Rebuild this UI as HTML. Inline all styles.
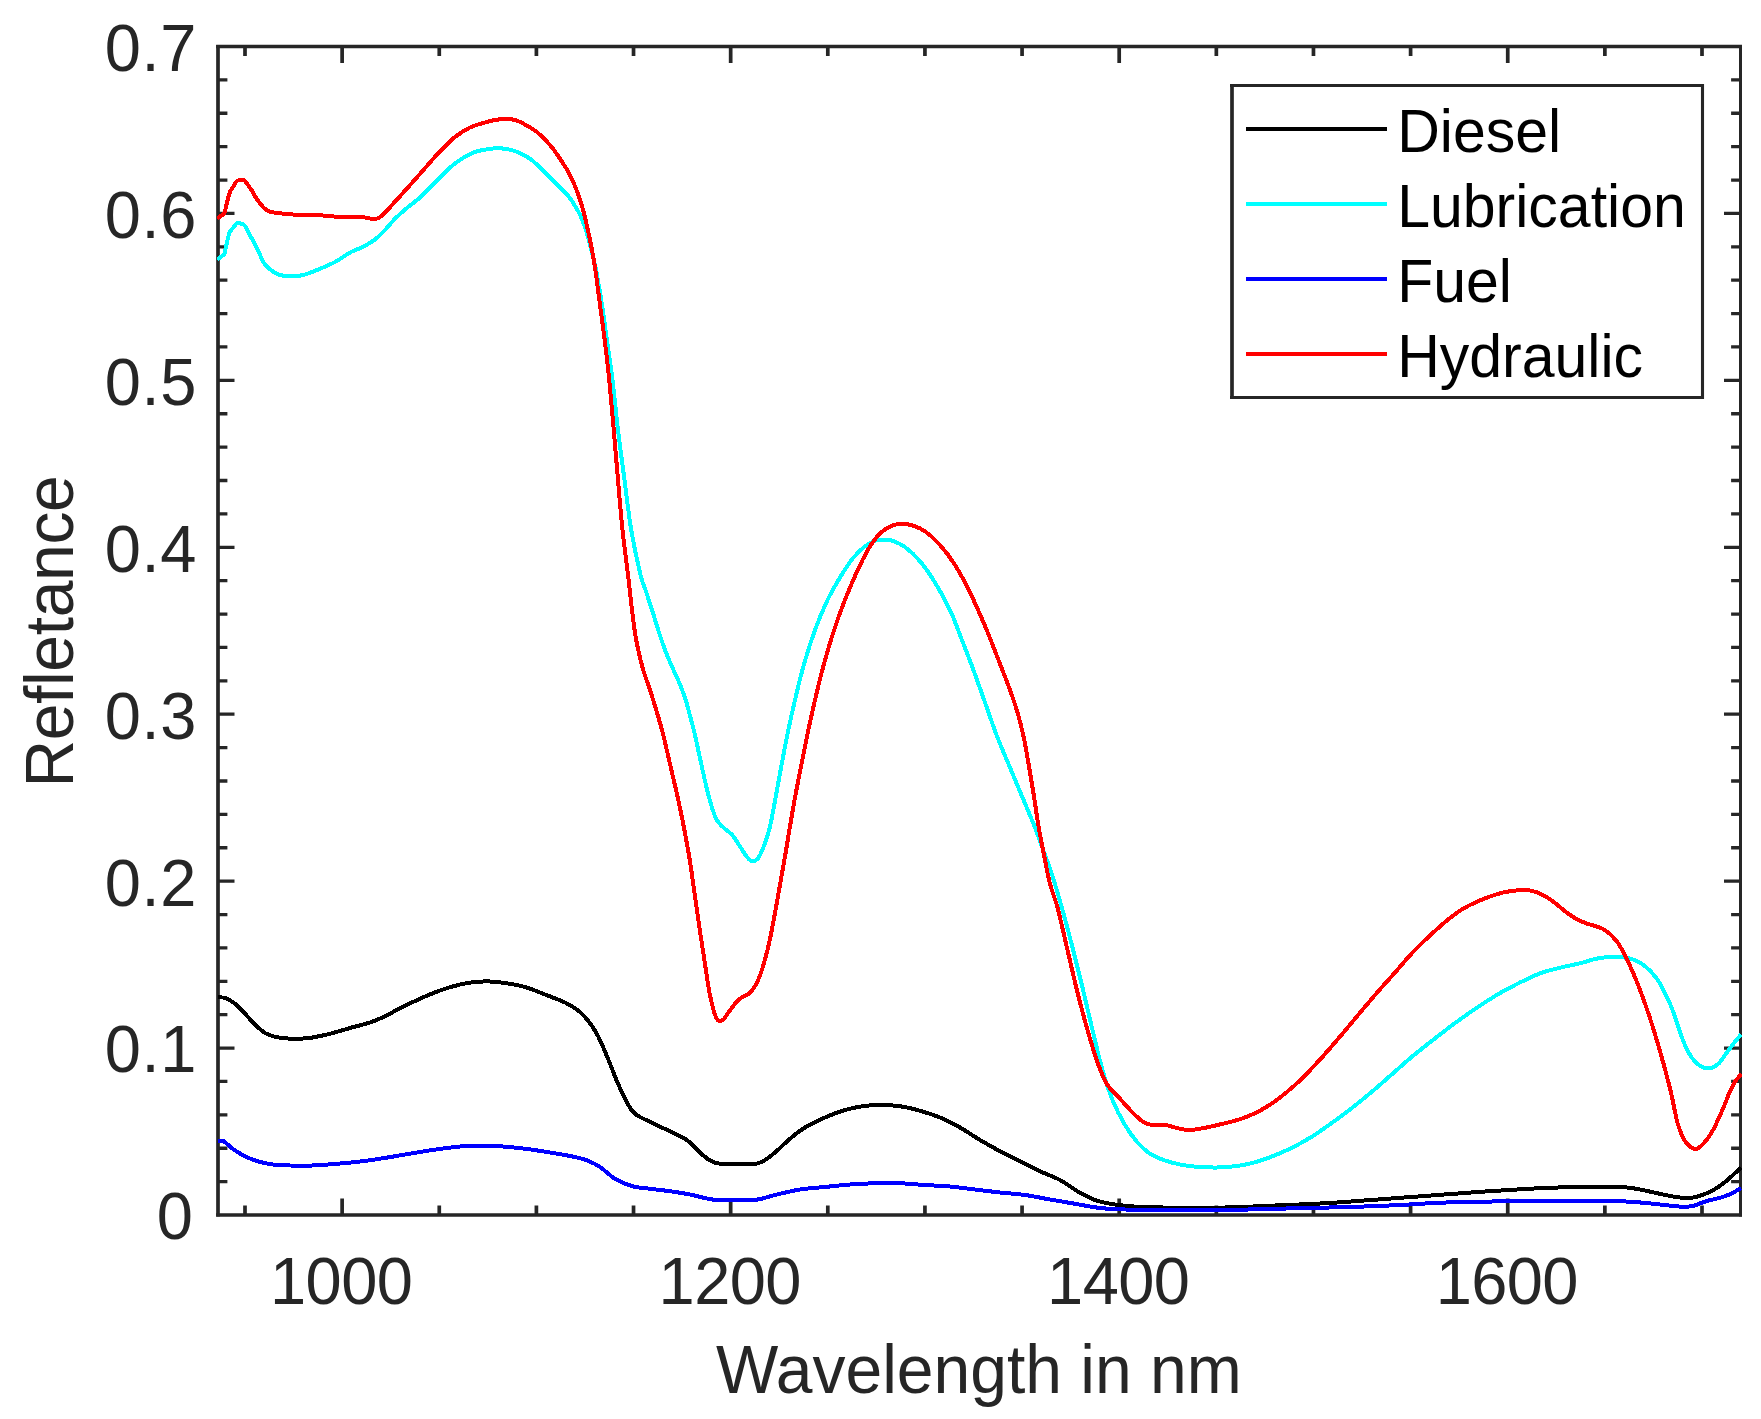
<!DOCTYPE html>
<html><head><meta charset="utf-8"><title>Refletance</title>
<style>
html,body{margin:0;padding:0;background:#fff;}
body{width:1761px;height:1419px;overflow:hidden;}
svg{display:block;}
text{font-family:"Liberation Sans",Arial,Helvetica,sans-serif;}
.t{font-size:65px;fill:#262626;letter-spacing:0.6px;}
.l{font-size:66px;fill:#262626;}
.lg{font-size:59px;fill:#000;}
.c{fill:none;stroke-width:4.0;stroke-linejoin:round;stroke-linecap:butt;shape-rendering:crispEdges;}
</style></head><body>
<svg width="1761" height="1419" viewBox="0 0 1761 1419">
<rect width="1761" height="1419" fill="#fff"/>
<defs><clipPath id="cp"><rect x="217.0" y="45.0" width="1525.0" height="1171.5"/></clipPath></defs>
<path d="M245.00,1215.0v-9.4M245.00,46.5v9.4M342.13,1215.0v-16.5M342.13,46.5v16.5M439.27,1215.0v-9.4M439.27,46.5v9.4M536.40,1215.0v-9.4M536.40,46.5v9.4M633.53,1215.0v-9.4M633.53,46.5v9.4M730.67,1215.0v-16.5M730.67,46.5v16.5M827.80,1215.0v-9.4M827.80,46.5v9.4M924.93,1215.0v-9.4M924.93,46.5v9.4M1022.07,1215.0v-9.4M1022.07,46.5v9.4M1119.20,1215.0v-16.5M1119.20,46.5v16.5M1216.34,1215.0v-9.4M1216.34,46.5v9.4M1313.47,1215.0v-9.4M1313.47,46.5v9.4M1410.60,1215.0v-9.4M1410.60,46.5v9.4M1507.74,1215.0v-16.5M1507.74,46.5v16.5M1604.87,1215.0v-9.4M1604.87,46.5v9.4M1702.00,1215.0v-9.4M1702.00,46.5v9.4" stroke="#262626" stroke-width="3.7" fill="none"/>
<path d="M218.0,1181.61h9.4M1740.5,1181.61h-9.4M218.0,1148.23h9.4M1740.5,1148.23h-9.4M218.0,1114.84h9.4M1740.5,1114.84h-9.4M218.0,1081.46h9.4M1740.5,1081.46h-9.4M218.0,1048.07h16.5M1740.5,1048.07h-16.5M218.0,1014.69h9.4M1740.5,1014.69h-9.4M218.0,981.30h9.4M1740.5,981.30h-9.4M218.0,947.91h9.4M1740.5,947.91h-9.4M218.0,914.53h9.4M1740.5,914.53h-9.4M218.0,881.14h16.5M1740.5,881.14h-16.5M218.0,847.76h9.4M1740.5,847.76h-9.4M218.0,814.37h9.4M1740.5,814.37h-9.4M218.0,780.99h9.4M1740.5,780.99h-9.4M218.0,747.60h9.4M1740.5,747.60h-9.4M218.0,714.21h16.5M1740.5,714.21h-16.5M218.0,680.83h9.4M1740.5,680.83h-9.4M218.0,647.44h9.4M1740.5,647.44h-9.4M218.0,614.06h9.4M1740.5,614.06h-9.4M218.0,580.67h9.4M1740.5,580.67h-9.4M218.0,547.29h16.5M1740.5,547.29h-16.5M218.0,513.90h9.4M1740.5,513.90h-9.4M218.0,480.51h9.4M1740.5,480.51h-9.4M218.0,447.13h9.4M1740.5,447.13h-9.4M218.0,413.74h9.4M1740.5,413.74h-9.4M218.0,380.36h16.5M1740.5,380.36h-16.5M218.0,346.97h9.4M1740.5,346.97h-9.4M218.0,313.59h9.4M1740.5,313.59h-9.4M218.0,280.20h9.4M1740.5,280.20h-9.4M218.0,246.81h9.4M1740.5,246.81h-9.4M218.0,213.43h16.5M1740.5,213.43h-16.5M218.0,180.04h9.4M1740.5,180.04h-9.4M218.0,146.66h9.4M1740.5,146.66h-9.4M218.0,113.27h9.4M1740.5,113.27h-9.4M218.0,79.89h9.4M1740.5,79.89h-9.4" stroke="#262626" stroke-width="3.3" fill="none"/>
<path d="M216.15,46.5H1742.0M216.15,1215.0H1742.0" stroke="#262626" stroke-width="3.3" fill="none"/>
<path d="M218.0,45.0V1216.6" stroke="#262626" stroke-width="3.7" fill="none"/>
<path d="M1740.5,45.0V1216.6" stroke="#262626" stroke-width="3.0" fill="none"/>
<g clip-path="url(#cp)">
<path class="c" stroke="#000000" d="M218.00,997.50C219.17,997.58 222.17,996.96 225.00,998.00C227.83,999.04 231.67,1001.12 235.00,1003.75C238.33,1006.38 241.67,1010.29 245.00,1013.75C248.33,1017.21 251.67,1021.29 255.00,1024.50C258.33,1027.71 261.67,1030.96 265.00,1033.00C268.33,1035.04 271.25,1035.83 275.00,1036.75C278.75,1037.67 283.33,1038.17 287.50,1038.50C291.67,1038.83 295.83,1038.92 300.00,1038.75C304.17,1038.58 307.50,1038.33 312.50,1037.50C317.50,1036.67 323.75,1035.33 330.00,1033.75C336.25,1032.17 343.33,1029.88 350.00,1028.00C356.67,1026.12 364.17,1024.46 370.00,1022.50C375.83,1020.54 380.00,1018.62 385.00,1016.25C390.00,1013.88 394.17,1011.17 400.00,1008.25C405.83,1005.33 413.33,1001.71 420.00,998.75C426.67,995.79 433.33,992.88 440.00,990.50C446.67,988.12 454.17,985.92 460.00,984.50C465.83,983.08 470.00,982.50 475.00,982.00C480.00,981.50 485.00,981.33 490.00,981.50C495.00,981.67 499.17,982.08 505.00,983.00C510.83,983.92 518.33,985.08 525.00,987.00C531.67,988.92 538.33,991.92 545.00,994.50C551.67,997.08 559.58,999.92 565.00,1002.50C570.42,1005.08 573.75,1007.08 577.50,1010.00C581.25,1012.92 584.17,1015.83 587.50,1020.00C590.83,1024.17 594.17,1028.75 597.50,1035.00C600.83,1041.25 604.17,1049.58 607.50,1057.50C610.83,1065.42 614.17,1074.79 617.50,1082.50C620.83,1090.21 624.58,1098.54 627.50,1103.75C630.42,1108.96 632.50,1111.33 635.00,1113.75C637.50,1116.17 638.75,1116.29 642.50,1118.25C646.25,1120.21 652.50,1123.12 657.50,1125.50C662.50,1127.88 667.50,1130.00 672.50,1132.50C677.50,1135.00 682.92,1137.17 687.50,1140.50C692.08,1143.83 696.25,1149.17 700.00,1152.50C703.75,1155.83 706.67,1158.62 710.00,1160.50C713.33,1162.38 715.83,1163.17 720.00,1163.75C724.17,1164.33 729.17,1163.96 735.00,1164.00C740.83,1164.04 750.00,1164.67 755.00,1164.00C760.00,1163.33 761.67,1161.92 765.00,1160.00C768.33,1158.08 770.83,1156.04 775.00,1152.50C779.17,1148.96 785.00,1142.92 790.00,1138.75C795.00,1134.58 799.17,1131.04 805.00,1127.50C810.83,1123.96 818.33,1120.42 825.00,1117.50C831.67,1114.58 838.75,1111.88 845.00,1110.00C851.25,1108.12 856.67,1107.08 862.50,1106.25C868.33,1105.42 873.75,1105.00 880.00,1105.00C886.25,1105.00 893.33,1105.29 900.00,1106.25C906.67,1107.21 913.33,1108.88 920.00,1110.75C926.67,1112.62 933.33,1114.71 940.00,1117.50C946.67,1120.29 953.33,1123.75 960.00,1127.50C966.67,1131.25 973.33,1136.04 980.00,1140.00C986.67,1143.96 993.33,1147.71 1000.00,1151.25C1006.67,1154.79 1013.33,1157.92 1020.00,1161.25C1026.67,1164.58 1033.33,1168.12 1040.00,1171.25C1046.67,1174.38 1053.75,1176.67 1060.00,1180.00C1066.25,1183.33 1071.67,1187.92 1077.50,1191.25C1083.33,1194.58 1089.58,1197.92 1095.00,1200.00C1100.42,1202.08 1104.17,1202.71 1110.00,1203.75C1115.83,1204.79 1121.25,1205.62 1130.00,1206.25C1138.75,1206.88 1146.67,1207.29 1162.50,1207.50C1178.33,1207.71 1206.25,1207.83 1225.00,1207.50C1243.75,1207.17 1258.33,1206.21 1275.00,1205.50C1291.67,1204.79 1309.00,1204.17 1325.00,1203.25C1341.00,1202.33 1355.00,1201.17 1371.00,1200.00C1387.00,1198.83 1404.33,1197.50 1421.00,1196.25C1437.67,1195.00 1454.33,1193.67 1471.00,1192.50C1487.67,1191.33 1506.42,1190.08 1521.00,1189.25C1535.58,1188.42 1542.67,1187.88 1558.50,1187.50C1574.33,1187.12 1603.08,1186.79 1616.00,1187.00C1628.92,1187.21 1629.33,1187.75 1636.00,1188.75C1642.67,1189.75 1649.33,1191.62 1656.00,1193.00C1662.67,1194.38 1670.58,1196.17 1676.00,1197.00C1681.42,1197.83 1684.75,1198.12 1688.50,1198.00C1692.25,1197.88 1694.33,1197.58 1698.50,1196.25C1702.67,1194.92 1708.92,1192.50 1713.50,1190.00C1718.08,1187.50 1721.42,1185.00 1726.00,1181.25C1730.58,1177.50 1738.50,1169.79 1741.00,1167.50"/>
<path class="c" stroke="#00ffff" d="M217.00,259.60C218.23,258.72 224.40,254.30 224.40,254.30C224.40,254.30 226.05,246.40 226.90,242.80C227.75,239.20 228.43,235.23 229.50,232.70C230.57,230.17 232.03,229.22 233.30,227.60C234.57,225.98 235.77,223.63 237.10,223.00C238.43,222.37 240.03,223.38 241.30,223.80C242.57,224.22 243.50,224.02 244.70,225.50C245.90,226.98 247.23,230.38 248.50,232.70C249.77,235.02 251.03,237.05 252.30,239.45C253.57,241.85 254.83,244.56 256.10,247.10C257.37,249.64 258.57,252.03 259.90,254.70C261.23,257.37 262.55,260.78 264.10,263.10C265.65,265.42 267.50,267.05 269.20,268.60C270.90,270.15 272.47,271.33 274.30,272.40C276.13,273.47 277.95,274.36 280.20,275.00C282.45,275.64 285.17,276.07 287.80,276.25C290.43,276.43 293.13,276.39 296.00,276.10C298.87,275.81 301.00,275.73 305.00,274.50C309.00,273.27 315.00,270.83 320.00,268.75C325.00,266.67 330.00,264.71 335.00,262.00C340.00,259.29 345.42,255.00 350.00,252.50C354.58,250.00 358.33,249.17 362.50,247.00C366.67,244.83 371.25,242.33 375.00,239.50C378.75,236.67 381.67,233.46 385.00,230.00C388.33,226.54 391.25,222.50 395.00,218.75C398.75,215.00 403.33,211.04 407.50,207.50C411.67,203.96 415.42,201.67 420.00,197.50C424.58,193.33 430.00,187.50 435.00,182.50C440.00,177.50 445.42,171.54 450.00,167.50C454.58,163.46 458.33,160.83 462.50,158.25C466.67,155.67 470.83,153.50 475.00,152.00C479.17,150.50 483.75,149.88 487.50,149.25C491.25,148.62 494.17,148.25 497.50,148.25C500.83,148.25 504.17,148.62 507.50,149.25C510.83,149.88 513.75,150.42 517.50,152.00C521.25,153.58 525.83,155.75 530.00,158.75C534.17,161.75 538.33,166.04 542.50,170.00C546.67,173.96 550.83,178.33 555.00,182.50C559.17,186.67 563.75,190.42 567.50,195.00C571.25,199.58 574.79,205.21 577.50,210.00C580.21,214.79 581.88,218.75 583.75,223.75C585.62,228.75 586.88,233.12 588.75,240.00C590.62,246.88 592.92,255.00 595.00,265.00C597.08,275.00 599.38,288.33 601.25,300.00C603.12,311.67 604.38,321.67 606.25,335.00C608.12,348.33 610.54,364.17 612.50,380.00C614.46,395.83 616.00,413.33 618.00,430.00C620.00,446.67 622.29,463.33 624.50,480.00C626.71,496.67 628.58,514.17 631.25,530.00C633.92,545.83 638.04,564.75 640.50,575.00C642.96,585.25 643.82,584.83 646.00,591.50C648.18,598.17 651.35,607.92 653.60,615.00C655.85,622.08 657.60,628.17 659.50,634.00C661.40,639.83 663.40,645.65 665.00,650.00C666.60,654.35 667.47,656.30 669.10,660.10C670.73,663.90 672.92,668.57 674.80,672.80C676.68,677.03 678.53,680.80 680.40,685.50C682.27,690.20 684.12,694.88 686.00,701.00C687.88,707.12 690.23,716.70 691.70,722.20C693.17,727.70 693.21,727.03 694.80,734.00C696.39,740.97 698.92,753.58 701.25,764.00C703.58,774.42 706.25,787.33 708.75,796.50C711.25,805.67 713.75,813.79 716.25,819.00C718.75,824.21 721.04,825.04 723.75,827.75C726.46,830.46 729.79,832.12 732.50,835.25C735.21,838.38 737.71,843.04 740.00,846.50C742.29,849.96 744.38,853.62 746.25,856.00C748.12,858.38 749.38,860.25 751.25,860.75C753.12,861.25 755.42,861.38 757.50,859.00C759.58,856.62 761.67,851.92 763.75,846.50C765.83,841.08 767.92,835.25 770.00,826.50C772.08,817.75 774.38,804.00 776.25,794.00C778.12,784.00 779.38,776.50 781.25,766.50C783.12,756.50 785.21,745.08 787.50,734.00C789.79,722.92 792.29,711.50 795.00,700.00C797.71,688.50 800.42,676.67 803.75,665.00C807.08,653.33 811.04,640.83 815.00,630.00C818.96,619.17 823.33,608.75 827.50,600.00C831.67,591.25 835.83,584.38 840.00,577.50C844.17,570.62 848.33,563.96 852.50,558.75C856.67,553.54 861.25,549.25 865.00,546.25C868.75,543.25 871.88,541.88 875.00,540.75C878.12,539.62 880.83,539.50 883.75,539.50C886.67,539.50 888.96,539.50 892.50,540.75C896.04,542.00 900.42,543.58 905.00,547.00C909.58,550.42 915.00,555.33 920.00,561.25C925.00,567.17 930.00,574.38 935.00,582.50C940.00,590.62 945.83,601.25 950.00,610.00C954.17,618.75 956.25,625.42 960.00,635.00C963.75,644.58 968.33,656.25 972.50,667.50C976.67,678.75 980.83,690.83 985.00,702.50C989.17,714.17 993.33,726.67 997.50,737.50C1001.67,748.33 1005.83,757.50 1010.00,767.50C1014.17,777.50 1018.33,787.50 1022.50,797.50C1026.67,807.50 1031.25,817.92 1035.00,827.50C1038.75,837.08 1042.29,847.58 1045.00,855.00C1047.71,862.42 1048.33,862.83 1051.25,872.00C1054.17,881.17 1058.96,897.42 1062.50,910.00C1066.04,922.58 1069.17,934.58 1072.50,947.50C1075.83,960.42 1079.17,973.75 1082.50,987.50C1085.83,1001.25 1089.17,1016.25 1092.50,1030.00C1095.83,1043.75 1099.17,1058.33 1102.50,1070.00C1105.83,1081.67 1108.75,1090.83 1112.50,1100.00C1116.25,1109.17 1120.83,1117.92 1125.00,1125.00C1129.17,1132.08 1133.33,1137.71 1137.50,1142.50C1141.67,1147.29 1145.42,1150.75 1150.00,1153.75C1154.58,1156.75 1159.58,1158.62 1165.00,1160.50C1170.42,1162.38 1176.67,1163.92 1182.50,1165.00C1188.33,1166.08 1194.17,1166.58 1200.00,1167.00C1205.83,1167.42 1211.67,1167.62 1217.50,1167.50C1223.33,1167.38 1229.17,1167.00 1235.00,1166.25C1240.83,1165.50 1246.25,1164.67 1252.50,1163.00C1258.75,1161.33 1265.83,1158.83 1272.50,1156.25C1279.17,1153.67 1285.83,1150.83 1292.50,1147.50C1299.17,1144.17 1305.83,1140.42 1312.50,1136.25C1319.17,1132.08 1325.83,1127.29 1332.50,1122.50C1339.17,1117.71 1345.83,1112.71 1352.50,1107.50C1359.17,1102.29 1365.83,1096.88 1372.50,1091.25C1379.17,1085.62 1385.83,1079.58 1392.50,1073.75C1399.17,1067.92 1404.42,1062.92 1412.50,1056.25C1420.58,1049.58 1432.92,1040.00 1441.00,1033.75C1449.08,1027.50 1454.33,1023.54 1461.00,1018.75C1467.67,1013.96 1474.33,1009.38 1481.00,1005.00C1487.67,1000.62 1494.33,996.33 1501.00,992.50C1507.67,988.67 1514.33,985.25 1521.00,982.00C1527.67,978.75 1534.33,975.42 1541.00,973.00C1547.67,970.58 1554.33,969.17 1561.00,967.50C1567.67,965.83 1575.17,964.46 1581.00,963.00C1586.83,961.54 1591.42,959.75 1596.00,958.75C1600.58,957.75 1604.75,957.29 1608.50,957.00C1612.25,956.71 1614.75,956.71 1618.50,957.00C1622.25,957.29 1626.83,957.42 1631.00,958.75C1635.17,960.08 1639.33,961.88 1643.50,965.00C1647.67,968.12 1652.25,972.50 1656.00,977.50C1659.75,982.50 1663.08,989.17 1666.00,995.00C1668.92,1000.83 1671.00,1005.83 1673.50,1012.50C1676.00,1019.17 1678.50,1028.33 1681.00,1035.00C1683.50,1041.67 1686.00,1047.92 1688.50,1052.50C1691.00,1057.08 1693.50,1060.00 1696.00,1062.50C1698.50,1065.00 1701.00,1066.58 1703.50,1067.50C1706.00,1068.42 1708.50,1068.62 1711.00,1068.00C1713.50,1067.38 1716.00,1066.12 1718.50,1063.75C1721.00,1061.38 1723.50,1057.08 1726.00,1053.75C1728.50,1050.42 1731.00,1046.96 1733.50,1043.75C1736.00,1040.54 1739.75,1036.04 1741.00,1034.50"/>
<path class="c" stroke="#0000ff" d="M218.00,1140.75C218.96,1140.83 221.33,1139.92 223.75,1141.25C226.17,1142.58 228.96,1146.25 232.50,1148.75C236.04,1151.25 240.83,1154.17 245.00,1156.25C249.17,1158.33 252.92,1159.88 257.50,1161.25C262.08,1162.62 267.08,1163.79 272.50,1164.50C277.92,1165.21 283.33,1165.33 290.00,1165.50C296.67,1165.67 304.58,1165.79 312.50,1165.50C320.42,1165.21 329.17,1164.46 337.50,1163.75C345.83,1163.04 354.17,1162.29 362.50,1161.25C370.83,1160.21 379.17,1158.83 387.50,1157.50C395.83,1156.17 404.17,1154.62 412.50,1153.25C420.83,1151.88 429.17,1150.42 437.50,1149.25C445.83,1148.08 455.42,1146.88 462.50,1146.25C469.58,1145.62 473.75,1145.50 480.00,1145.50C486.25,1145.50 492.50,1145.71 500.00,1146.25C507.50,1146.79 516.67,1147.71 525.00,1148.75C533.33,1149.79 541.67,1151.12 550.00,1152.50C558.33,1153.88 568.75,1155.67 575.00,1157.00C581.25,1158.33 583.33,1158.83 587.50,1160.50C591.67,1162.17 595.42,1163.96 600.00,1167.00C604.58,1170.04 609.58,1175.54 615.00,1178.75C620.42,1181.96 626.67,1184.58 632.50,1186.25C638.33,1187.92 643.75,1187.92 650.00,1188.75C656.25,1189.58 663.33,1190.29 670.00,1191.25C676.67,1192.21 682.92,1193.12 690.00,1194.50C697.08,1195.88 705.00,1198.58 712.50,1199.50C720.00,1200.42 727.50,1200.00 735.00,1200.00C742.50,1200.00 750.83,1200.33 757.50,1199.50C764.17,1198.67 767.92,1196.67 775.00,1195.00C782.08,1193.33 791.67,1190.83 800.00,1189.50C808.33,1188.17 816.67,1187.83 825.00,1187.00C833.33,1186.17 841.67,1185.12 850.00,1184.50C858.33,1183.88 866.67,1183.46 875.00,1183.25C883.33,1183.04 891.67,1182.96 900.00,1183.25C908.33,1183.54 916.67,1184.46 925.00,1185.00C933.33,1185.54 941.67,1185.75 950.00,1186.50C958.33,1187.25 966.67,1188.50 975.00,1189.50C983.33,1190.50 991.67,1191.58 1000.00,1192.50C1008.33,1193.42 1016.67,1193.83 1025.00,1195.00C1033.33,1196.17 1041.67,1198.04 1050.00,1199.50C1058.33,1200.96 1066.67,1202.33 1075.00,1203.75C1083.33,1205.17 1091.67,1207.04 1100.00,1208.00C1108.33,1208.96 1114.58,1209.17 1125.00,1209.50C1135.42,1209.83 1145.83,1209.92 1162.50,1210.00C1179.17,1210.08 1206.25,1210.21 1225.00,1210.00C1243.75,1209.79 1254.17,1209.25 1275.00,1208.75C1295.83,1208.25 1329.17,1207.62 1350.00,1207.00C1370.83,1206.38 1384.00,1205.75 1400.00,1205.00C1416.00,1204.25 1427.92,1203.12 1446.00,1202.50C1464.08,1201.88 1487.67,1201.58 1508.50,1201.25C1529.33,1200.92 1552.25,1200.50 1571.00,1200.50C1589.75,1200.50 1608.50,1200.83 1621.00,1201.25C1633.50,1201.67 1637.67,1202.25 1646.00,1203.00C1654.33,1203.75 1664.75,1205.12 1671.00,1205.75C1677.25,1206.38 1679.75,1206.75 1683.50,1206.75C1687.25,1206.75 1689.75,1206.67 1693.50,1205.75C1697.25,1204.83 1701.42,1202.62 1706.00,1201.25C1710.58,1199.88 1716.83,1198.75 1721.00,1197.50C1725.17,1196.25 1727.67,1195.33 1731.00,1193.75C1734.33,1192.17 1739.33,1188.96 1741.00,1188.00"/>
<path class="c" stroke="#ff0000" d="M217.00,218.50C218.23,217.69 224.40,213.65 224.40,213.65C224.40,213.65 226.38,204.99 227.30,201.40C228.22,197.81 228.90,194.57 229.90,192.10C230.90,189.63 232.18,188.40 233.30,186.60C234.42,184.80 235.40,182.42 236.60,181.30C237.80,180.18 239.22,180.07 240.50,179.90C241.78,179.73 243.03,179.40 244.30,180.30C245.57,181.20 246.77,183.48 248.10,185.30C249.43,187.12 250.97,189.08 252.30,191.20C253.63,193.32 254.83,196.02 256.10,198.00C257.37,199.98 258.57,201.42 259.90,203.10C261.23,204.78 262.55,206.70 264.10,208.10C265.65,209.50 267.22,210.72 269.20,211.50C271.18,212.28 273.18,212.40 276.00,212.80C278.82,213.20 282.10,213.55 286.10,213.90C290.10,214.25 295.18,214.76 300.00,214.90C304.82,215.04 310.00,214.53 315.00,214.75C320.00,214.97 325.00,215.88 330.00,216.25C335.00,216.62 340.00,216.92 345.00,217.00C350.00,217.08 355.83,216.50 360.00,216.75C364.17,217.00 367.00,218.25 370.00,218.50C373.00,218.75 375.50,219.25 378.00,218.25C380.50,217.25 381.33,216.17 385.00,212.50C388.67,208.83 395.00,201.75 400.00,196.25C405.00,190.75 410.00,185.12 415.00,179.50C420.00,173.88 425.83,167.21 430.00,162.50C434.17,157.79 435.83,155.50 440.00,151.25C444.17,147.00 450.00,140.96 455.00,137.00C460.00,133.04 465.00,129.92 470.00,127.50C475.00,125.08 480.83,123.75 485.00,122.50C489.17,121.25 491.67,120.58 495.00,120.00C498.33,119.42 501.67,119.00 505.00,119.00C508.33,119.00 511.67,119.08 515.00,120.00C518.33,120.92 521.25,122.42 525.00,124.50C528.75,126.58 533.33,129.08 537.50,132.50C541.67,135.92 546.25,140.62 550.00,145.00C553.75,149.38 556.67,153.75 560.00,158.75C563.33,163.75 567.08,169.38 570.00,175.00C572.92,180.62 575.21,186.25 577.50,192.50C579.79,198.75 581.67,204.58 583.75,212.50C585.83,220.42 588.12,230.83 590.00,240.00C591.88,249.17 593.33,256.67 595.00,267.50C596.67,278.33 598.33,292.50 600.00,305.00C601.67,317.50 603.46,330.00 605.00,342.50C606.54,355.00 607.79,365.42 609.25,380.00C610.71,394.58 612.29,413.33 613.75,430.00C615.21,446.67 616.54,463.33 618.00,480.00C619.46,496.67 620.73,513.33 622.50,530.00C624.27,546.67 626.87,565.42 628.60,580.00C630.33,594.58 631.62,607.50 632.90,617.50C634.17,627.50 634.65,631.67 636.25,640.00C637.85,648.33 640.21,659.17 642.50,667.50C644.79,675.83 647.71,682.92 650.00,690.00C652.29,697.08 654.08,702.67 656.25,710.00C658.42,717.33 660.71,725.00 663.00,734.00C665.29,743.00 667.58,753.58 670.00,764.00C672.42,774.42 675.21,786.08 677.50,796.50C679.79,806.92 681.67,815.67 683.75,826.50C685.83,837.33 688.12,849.83 690.00,861.50C691.88,873.17 693.33,884.83 695.00,896.50C696.67,908.17 698.33,920.25 700.00,931.50C701.67,942.75 703.33,953.38 705.00,964.00C706.67,974.62 708.12,986.29 710.00,995.25C711.88,1004.21 714.17,1013.58 716.25,1017.75C718.33,1021.92 720.21,1021.50 722.50,1020.25C724.79,1019.00 727.29,1013.71 730.00,1010.25C732.71,1006.79 735.42,1002.42 738.75,999.50C742.08,996.58 746.88,995.75 750.00,992.75C753.12,989.75 755.21,986.29 757.50,981.50C759.79,976.71 761.67,971.08 763.75,964.00C765.83,956.92 767.71,949.83 770.00,939.00C772.29,928.17 775.00,912.75 777.50,899.00C780.00,885.25 782.50,871.08 785.00,856.50C787.50,841.92 790.00,825.67 792.50,811.50C795.00,797.33 797.50,784.42 800.00,771.50C802.50,758.58 805.00,745.92 807.50,734.00C810.00,722.08 812.08,712.33 815.00,700.00C817.92,687.67 821.25,673.33 825.00,660.00C828.75,646.67 833.33,632.08 837.50,620.00C841.67,607.92 845.83,597.50 850.00,587.50C854.17,577.50 858.75,567.50 862.50,560.00C866.25,552.50 869.17,547.29 872.50,542.50C875.83,537.71 879.17,534.08 882.50,531.25C885.83,528.42 889.25,526.75 892.50,525.50C895.75,524.25 898.67,523.75 902.00,523.75C905.33,523.75 908.67,524.25 912.50,525.50C916.33,526.75 920.42,528.00 925.00,531.25C929.58,534.50 935.00,539.38 940.00,545.00C945.00,550.62 950.00,557.08 955.00,565.00C960.00,572.92 965.00,582.33 970.00,592.50C975.00,602.67 980.42,615.17 985.00,626.00C989.58,636.83 993.33,646.83 997.50,657.50C1001.67,668.17 1006.67,680.83 1010.00,690.00C1013.33,699.17 1015.21,704.58 1017.50,712.50C1019.79,720.42 1021.88,728.75 1023.75,737.50C1025.62,746.25 1027.08,755.42 1028.75,765.00C1030.42,774.58 1032.08,784.58 1033.75,795.00C1035.42,805.42 1036.88,816.67 1038.75,827.50C1040.62,838.33 1043.12,850.58 1045.00,860.00C1046.88,869.42 1047.92,876.08 1050.00,884.00C1052.08,891.92 1054.58,896.50 1057.50,907.50C1060.42,918.50 1064.17,935.83 1067.50,950.00C1070.83,964.17 1074.17,979.17 1077.50,992.50C1080.83,1005.83 1084.17,1018.33 1087.50,1030.00C1090.83,1041.67 1094.17,1053.33 1097.50,1062.50C1100.83,1071.67 1103.75,1078.96 1107.50,1085.00C1111.25,1091.04 1115.83,1094.17 1120.00,1098.75C1124.17,1103.33 1128.75,1108.75 1132.50,1112.50C1136.25,1116.25 1139.58,1119.25 1142.50,1121.25C1145.42,1123.25 1146.25,1123.88 1150.00,1124.50C1153.75,1125.12 1160.83,1124.50 1165.00,1125.00C1169.17,1125.50 1171.25,1126.67 1175.00,1127.50C1178.75,1128.33 1183.33,1129.79 1187.50,1130.00C1191.67,1130.21 1195.00,1129.58 1200.00,1128.75C1205.00,1127.92 1210.83,1126.58 1217.50,1125.00C1224.17,1123.42 1233.33,1121.42 1240.00,1119.25C1246.67,1117.08 1251.67,1115.00 1257.50,1112.00C1263.33,1109.00 1268.75,1105.75 1275.00,1101.25C1281.25,1096.75 1288.33,1091.04 1295.00,1085.00C1301.67,1078.96 1308.33,1072.08 1315.00,1065.00C1321.67,1057.92 1328.33,1050.21 1335.00,1042.50C1341.67,1034.79 1348.33,1026.67 1355.00,1018.75C1361.67,1010.83 1368.33,1002.71 1375.00,995.00C1381.67,987.29 1388.33,980.00 1395.00,972.50C1401.67,965.00 1407.33,957.83 1415.00,950.00C1422.67,942.17 1433.33,932.17 1441.00,925.50C1448.67,918.83 1454.33,914.25 1461.00,910.00C1467.67,905.75 1474.33,902.83 1481.00,900.00C1487.67,897.17 1495.17,894.58 1501.00,893.00C1506.83,891.42 1511.83,891.00 1516.00,890.50C1520.17,890.00 1522.67,889.75 1526.00,890.00C1529.33,890.25 1532.67,890.88 1536.00,892.00C1539.33,893.12 1542.67,894.79 1546.00,896.75C1549.33,898.71 1552.67,901.21 1556.00,903.75C1559.33,906.29 1562.67,909.50 1566.00,912.00C1569.33,914.50 1572.67,916.88 1576.00,918.75C1579.33,920.62 1582.67,922.00 1586.00,923.25C1589.33,924.50 1593.08,925.25 1596.00,926.25C1598.92,927.25 1601.00,927.79 1603.50,929.25C1606.00,930.71 1608.50,932.58 1611.00,935.00C1613.50,937.42 1616.00,940.00 1618.50,943.75C1621.00,947.50 1623.50,952.50 1626.00,957.50C1628.50,962.50 1631.00,967.92 1633.50,973.75C1636.00,979.58 1638.50,985.83 1641.00,992.50C1643.50,999.17 1646.00,1006.25 1648.50,1013.75C1651.00,1021.25 1653.50,1029.17 1656.00,1037.50C1658.50,1045.83 1661.00,1054.58 1663.50,1063.75C1666.00,1072.92 1668.68,1082.71 1671.00,1092.50C1673.32,1102.29 1675.33,1114.83 1677.40,1122.50C1679.47,1130.17 1681.45,1134.62 1683.40,1138.50C1685.35,1142.38 1687.30,1144.07 1689.10,1145.80C1690.90,1147.53 1692.50,1148.63 1694.20,1148.90C1695.90,1149.17 1697.25,1148.88 1699.30,1147.40C1701.35,1145.92 1704.33,1142.68 1706.50,1140.00C1708.67,1137.32 1710.37,1134.68 1712.30,1131.30C1714.23,1127.92 1716.18,1123.80 1718.10,1119.70C1720.02,1115.60 1721.88,1111.27 1723.80,1106.70C1725.72,1102.13 1727.78,1096.38 1729.60,1092.30C1731.42,1088.22 1732.72,1085.28 1734.70,1082.20C1736.68,1079.12 1740.37,1075.20 1741.50,1073.80"/>
</g>
<text class="t" text-anchor="middle" style="letter-spacing:-0.6px" transform="translate(341.13,1304.20) scale(1,1.03)">1000</text>
<text class="t" text-anchor="middle" style="letter-spacing:-0.6px" transform="translate(729.67,1304.20) scale(1,1.03)">1200</text>
<text class="t" text-anchor="middle" style="letter-spacing:-0.6px" transform="translate(1118.20,1304.20) scale(1,1.03)">1400</text>
<text class="t" text-anchor="middle" style="letter-spacing:-0.6px" transform="translate(1506.74,1304.20) scale(1,1.03)">1600</text>
<text class="t" text-anchor="end" transform="translate(193.40,1239.40) scale(1,1.03)">0</text>
<text class="t" text-anchor="end" transform="translate(197.00,1072.47) scale(1,1.03)">0.1</text>
<text class="t" text-anchor="end" transform="translate(197.00,905.54) scale(1,1.03)">0.2</text>
<text class="t" text-anchor="end" transform="translate(197.00,738.61) scale(1,1.03)">0.3</text>
<text class="t" text-anchor="end" transform="translate(197.00,571.69) scale(1,1.03)">0.4</text>
<text class="t" text-anchor="end" transform="translate(197.00,404.76) scale(1,1.03)">0.5</text>
<text class="t" text-anchor="end" transform="translate(197.00,237.83) scale(1,1.03)">0.6</text>
<text class="t" text-anchor="end" transform="translate(197.00,70.90) scale(1,1.03)">0.7</text>
<text class="l" text-anchor="middle" transform="translate(978.80,1392.70) scale(1,1.03)">Wavelength in nm</text>
<text class="l" text-anchor="middle" style="letter-spacing:-0.35px" transform="translate(72.90,631.60) rotate(-90) scale(1,1.03)">Refletance</text>
<rect x="1232.0" y="85.5" width="470.5" height="312.0" fill="#fff"/>
<path d="M1230.0,85.5H1704.0M1230.0,397.5H1704.0" stroke="#262626" stroke-width="3.1" fill="none"/>
<path d="M1232.0,84.0V399.0" stroke="#262626" stroke-width="3.7" fill="none"/>
<path d="M1702.5,84.0V399.0" stroke="#262626" stroke-width="3.1" fill="none"/>
<path d="M1246,129.00H1387" stroke="#000000" stroke-width="4" fill="none" shape-rendering="crispEdges"/>
<text class="lg" transform="translate(1397.20,151.90) scale(1,1.03)">Diesel</text>
<path d="M1246,204.00H1387" stroke="#00ffff" stroke-width="4" fill="none" shape-rendering="crispEdges"/>
<text class="lg" transform="translate(1397.20,226.90) scale(1,1.03)">Lubrication</text>
<path d="M1246,279.00H1387" stroke="#0000ff" stroke-width="4" fill="none" shape-rendering="crispEdges"/>
<text class="lg" transform="translate(1397.20,301.90) scale(1,1.03)">Fuel</text>
<path d="M1246,354.00H1387" stroke="#ff0000" stroke-width="4" fill="none" shape-rendering="crispEdges"/>
<text class="lg" transform="translate(1397.20,376.90) scale(1,1.03)">Hydraulic</text>
</svg>
</body></html>
